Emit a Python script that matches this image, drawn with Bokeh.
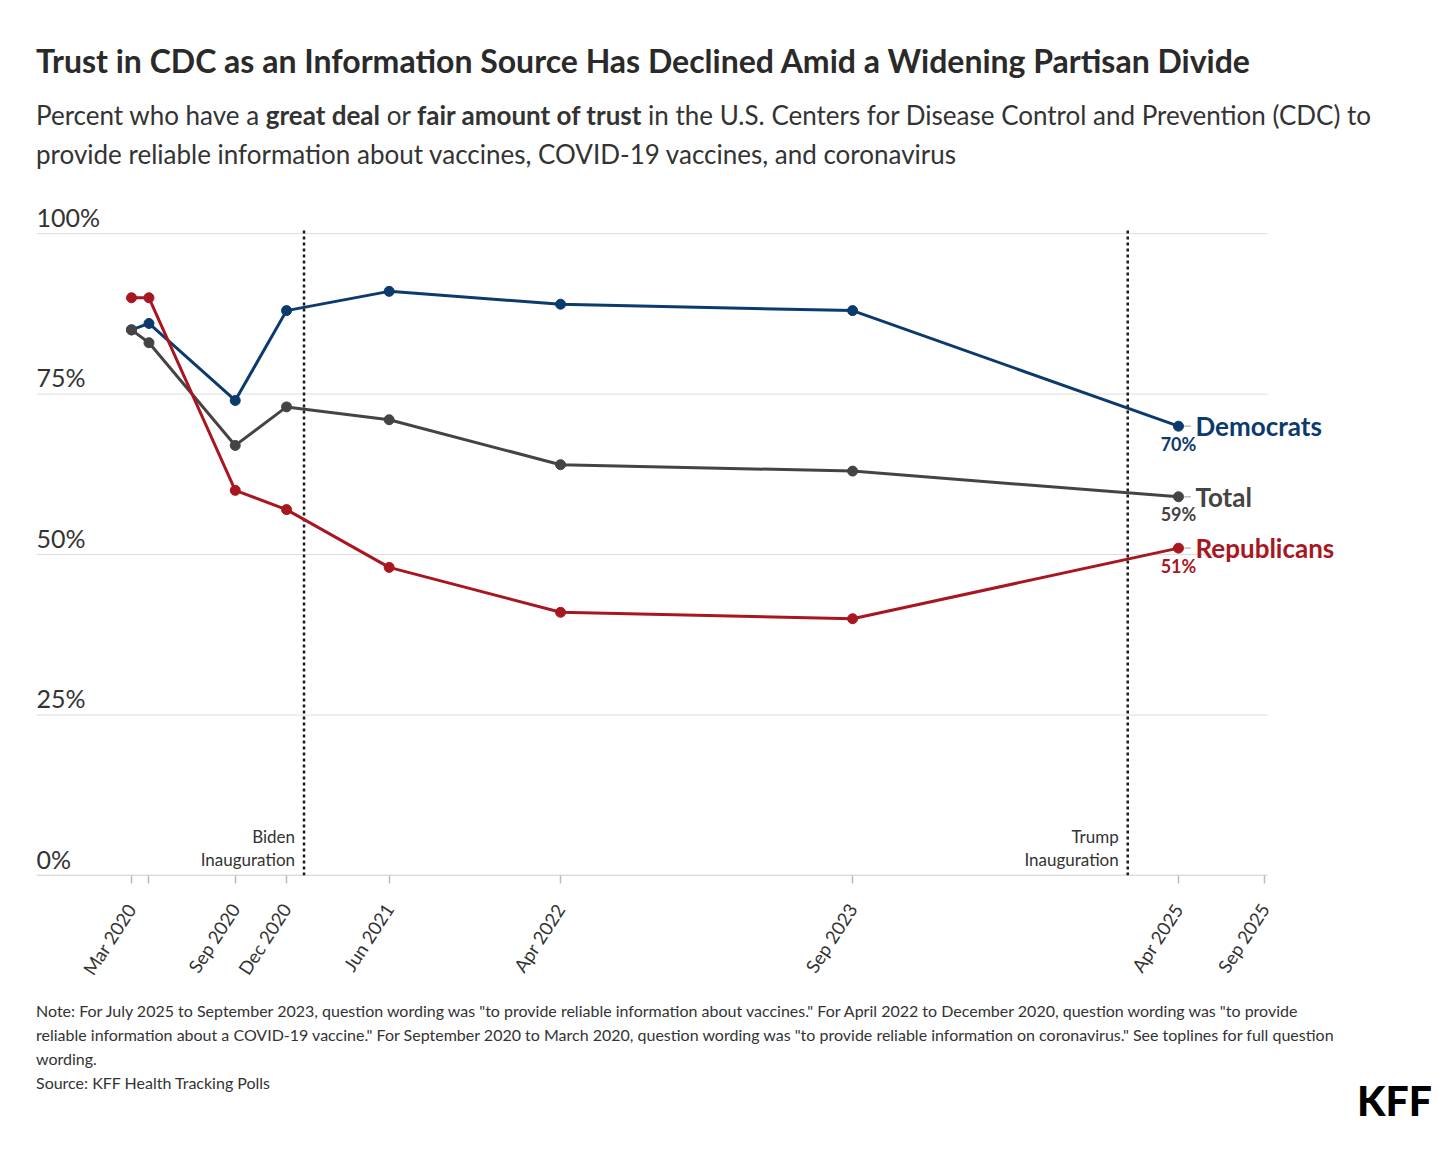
import math
from datetime import datetime, timezone
from bokeh.plotting import figure
from bokeh.models import Div, FixedTicker, DatetimeTickFormatter, Range1d
from bokeh.layouts import column
from bokeh.embed import file_html
from bokeh.resources import INLINE
from bokeh.core.properties import value

# ---------------- data ----------------
dates = ["2020-03-01", "2020-04-01", "2020-09-01", "2020-12-01",
         "2021-06-01", "2022-04-01", "2023-09-01", "2025-04-01"]
democrats = [85, 86, 74, 88, 91, 89, 88, 70]
total = [85, 83, 67, 73, 71, 64, 63, 59]
republicans = [90, 90, 60, 57, 48, 41, 40, 51]
series_names = ["Democrats", "Total", "Republicans"]

tick_dates = ["2020-03-01", "2020-09-01", "2020-12-01", "2021-06-01",
              "2022-04-01", "2023-09-01", "2025-04-01", "2025-09-01"]
unlabeled_tick_dates = ["2020-04-01"]
event_dates = ["2021-01-01", "2025-01-01"]
event_labels = ["Biden\nInauguration", "Trump\nInauguration"]
y_ticks = [0, 25, 50, 75, 100]
y_tick_labels = ["0%", "25%", "50%", "75%", "100%"]

FONT = "Lato"
COLORS = {"Democrats": "#0b3a6d", "Total": "#444444", "Republicans": "#a8171f"}
TXT = "#333333"


def ms(s):
    return datetime.strptime(s, "%Y-%m-%d").replace(tzinfo=timezone.utc).timestamp() * 1000.0


DAY = 86400000.0
PX_PER_DAY = 0.5638
LEFT = 36
FRAME_W = 1440 - LEFT - 8
x_start = ms("2020-03-01") - 168.5 * DAY
x_end = x_start + FRAME_W / PX_PER_DAY * DAY
grid_end = ms("2025-09-01") + 5 * DAY

xs = [ms(d) for d in dates]

# ---------------- header ----------------
header_html = f"""
<div style="font-family:'{FONT}'; color:{TXT}; padding-left:31px; margin:0;">
  <div style="font-size:32px; font-weight:bold; line-height:38px; margin-top:37px; color:#2a2a2a; white-space:nowrap;">Trust in CDC as an Information Source Has Declined Amid a Widening Partisan Divide</div>
  <div style="font-size:26px; line-height:39px; margin-top:16px; white-space:nowrap;">Percent who have a <b>great deal</b> or <b>fair amount of trust</b> in the U.S. Centers for Disease Control and Prevention (CDC) to<br>provide reliable information about vaccines, COVID-19 vaccines, and coronavirus</div>
</div>
"""
header = Div(text=header_html, width=1440, height=178)

# ---------------- figure ----------------
p = figure(width=1440, height=806, x_axis_type="datetime",
           output_backend="svg", toolbar_location=None, title=None,
           x_range=Range1d(x_start, x_end), y_range=Range1d(0, 105),
           min_border_left=LEFT, min_border_right=8, min_border_top=13,
           min_border_bottom=119)
p.outline_line_color = None
p.xgrid.visible = False
p.ygrid.visible = False
p.yaxis.visible = False
p.background_fill_color = "white"
p.border_fill_color = "white"

# gridlines & axis line
p.segment(x0=[x_start] * (len(y_ticks) - 1), x1=[grid_end] * (len(y_ticks) - 1),
          y0=y_ticks[1:], y1=y_ticks[1:], line_color="#dddddd", line_width=1)
p.segment(x0=[x_start], x1=[grid_end], y0=[y_ticks[0]], y1=[y_ticks[0]],
          line_color="#bbbbbb", line_width=1.5)

# y labels
p.text(x=[x_start] * len(y_ticks), y=[v + 0.3 for v in y_ticks], text=y_tick_labels,
       text_font=value(FONT), text_font_size="25px", text_color=TXT,
       text_align="left", text_baseline="bottom")

# x axis
ax = p.xaxis[0]
ax.ticker = FixedTicker(ticks=[ms(d) for d in tick_dates],
                        minor_ticks=[ms(d) for d in unlabeled_tick_dates])
fmt = "%b %Y"
ax.formatter = DatetimeTickFormatter(microseconds=fmt, milliseconds=fmt, seconds=fmt,
                                     minsec=fmt, minutes=fmt, hourmin=fmt, hours=fmt,
                                     days=fmt, months=fmt, years=fmt)
ax.axis_line_color = None
ax.major_tick_in = 0
ax.major_tick_out = 8
ax.minor_tick_in = 0
ax.minor_tick_out = 8
ax.major_tick_line_color = "#bbbbbb"
ax.minor_tick_line_color = "#bbbbbb"
ax.major_tick_line_width = 1.5
ax.minor_tick_line_width = 1.5
ax.major_label_text_font = FONT
ax.major_label_text_font_size = "18.5px"
ax.major_label_text_color = TXT
ax.major_label_orientation = math.radians(57)
ax.major_label_standoff = 22

# event lines
ev = [ms(d) for d in event_dates]
p.segment(x0=ev, x1=ev, y0=[0] * len(ev), y1=[100.8] * len(ev),
          line_color="#1a1a1a", line_width=2.5, line_dash="3 3")
p.text(x=ev, y=[0.8] * len(ev), text=event_labels, x_offset=-9,
       text_font=value(FONT), text_font_size="17px", text_color=TXT,
       text_align="right", text_baseline="bottom", text_line_height=1.13)

# series
for name, vals in zip(series_names, [democrats, total, republicans]):
    c = COLORS[name]
    p.line(xs, vals, line_color=c, line_width=3)
    p.scatter(xs, vals, size=10, fill_color=c, line_color=c)
    # connector dash
    p.segment(x0=[xs[-1] + 10 * DAY], x1=[xs[-1] + 22 * DAY], y0=[vals[-1]], y1=[vals[-1]],
              line_color="#bbbbbb", line_width=1.5)
    p.text(x=[xs[-1]], y=[vals[-1]], text=[name], x_offset=17,
           text_font=value(FONT), text_font_size="26px", text_font_style="bold",
           text_color=c, text_align="left", text_baseline="middle")
    p.text(x=[xs[-1]], y=[vals[-1] - 1.0], text=[f"{vals[-1]}%"],
           text_font=value(FONT), text_font_size="18px", text_font_style="bold",
           text_color=c, text_align="center", text_baseline="top")

# ---------------- notes ----------------
notes_html = f"""
<div style="position:relative; width:1440px; height:153px; font-family:'{FONT}'; color:{TXT}; margin:0;">
  <div style="position:absolute; left:31px; top:0px; font-size:16px; line-height:24px; white-space:nowrap;">
  Note: For July 2025 to September 2023, question wording was "to provide reliable information about vaccines." For April 2022 to December 2020, question wording was "to provide<br>
  reliable information about a COVID-19 vaccine." For September 2020 to March 2020, question wording was "to provide reliable information on coronavirus." See toplines for full question<br>
  wording.<br>
  Source: KFF Health Tracking Polls
  </div>
  <div style="position:absolute; left:1352px; top:81px; font-size:41px; font-weight:900; color:#000; line-height:41px;">KFF</div>
</div>
"""
notes = Div(text=notes_html, width=1440, height=153)

layout = column(header, p, notes, spacing=0)
open("out.html", "w").write(file_html(layout, INLINE))
